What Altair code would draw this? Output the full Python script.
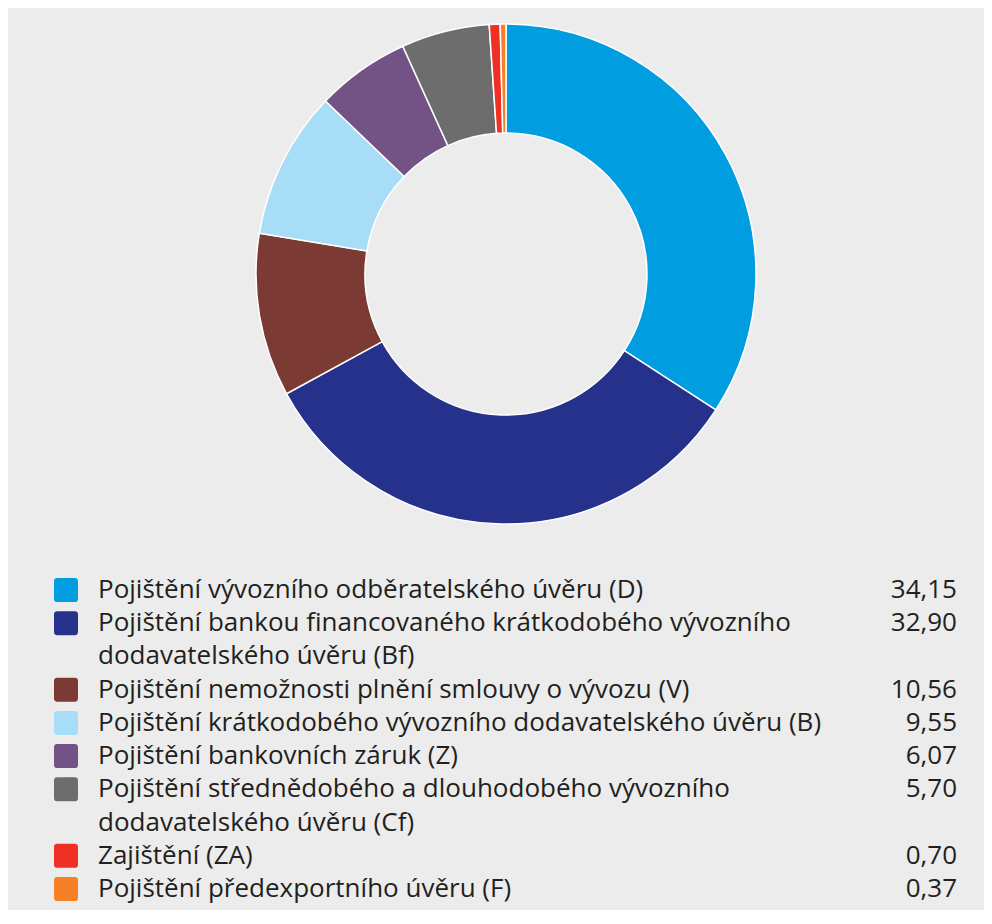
import altair as alt
import pandas as pd

codes = ["D", "Bf", "V", "B", "Z", "Cf", "ZA", "F"]
labels = [
    "Pojištění vývozního odběratelského úvěru (D)",
    "Pojištění bankou financovaného krátkodobého vývozního\ndodavatelského úvěru (Bf)",
    "Pojištění nemožnosti plnění smlouvy o vývozu (V)",
    "Pojištění krátkodobého vývozního dodavatelského úvěru (B)",
    "Pojištění bankovních záruk (Z)",
    "Pojištění střednědobého a dlouhodobého vývozního\ndodavatelského úvěru (Cf)",
    "Zajištění (ZA)",
    "Pojištění předexportního úvěru (F)",
]
values = [34.15, 32.90, 10.56, 9.55, 6.07, 5.70, 0.70, 0.37]
colors = ["#009ee0", "#25318a", "#7b3a33", "#a8ddf7", "#735386", "#6d6d6e", "#ee3124", "#f58025"]

FONT = "Open Sans"
FONT_SIZE = 26
TEXT_COLOR = "#231f20"

rows = []
lines = []
line_idx = 0
for i, (c, lab, v) in enumerate(zip(codes, labels, values)):
    rows.append({"order": i, "code": c, "value": v,
                 "vtext": f"{v:.2f}".replace(".", ","), "line": line_idx})
    for part in lab.split("\n"):
        lines.append({"line": line_idx, "text": part})
        line_idx += 1
df = pd.DataFrame(rows)
lines_df = pd.DataFrame(lines)

color_scale = alt.Scale(domain=codes, range=colors)
yscale = alt.Scale(domain=[0, 9], range=[582, 881], zero=False, nice=False)

arc = alt.Chart(df).mark_arc(
    outerRadius=250, innerRadius=141, stroke="white", strokeWidth=1.5
).encode(
    theta=alt.Theta("value:Q", stack=True),
    color=alt.Color("code:N", scale=color_scale, legend=None),
    order=alt.Order("order:Q"),
    x=alt.value(498),
    y=alt.value(266),
)

rounded = ("M -0.72,-1 L 0.72,-1 Q 1,-1 1,-0.72 L 1,0.72 Q 1,1 0.72,1 "
           "L -0.72,1 Q -1,1 -1,0.72 L -1,-0.72 Q -1,-1 -0.72,-1 Z")

swatch = alt.Chart(df).mark_point(
    shape=rounded, filled=True, size=576, opacity=1, strokeWidth=0
).encode(
    x=alt.value(58),
    y=alt.Y("line:Q", scale=yscale, axis=None),
    color=alt.Color("code:N", scale=color_scale, legend=None),
)

label_text = alt.Chart(lines_df).mark_text(
    align="left", baseline="middle", font=FONT, fontSize=FONT_SIZE, color=TEXT_COLOR
).encode(
    x=alt.value(90),
    y=alt.Y("line:Q", scale=yscale, axis=None),
    text="text:N",
)

value_text = alt.Chart(df).mark_text(
    align="right", baseline="middle", font=FONT, fontSize=FONT_SIZE, color=TEXT_COLOR
).encode(
    x=alt.value(949),
    y=alt.Y("line:Q", scale=yscale, axis=None),
    text="vtext:N",
)

chart = alt.layer(arc, swatch, label_text, value_text).properties(
    width=976, height=902, padding=0,
    autosize=alt.AutoSizeParams(type="none"),
    background="#ececec",
).configure_view(stroke=None)

chart.save("out.html", embed_options={"renderer": "svg", "actions": False})
